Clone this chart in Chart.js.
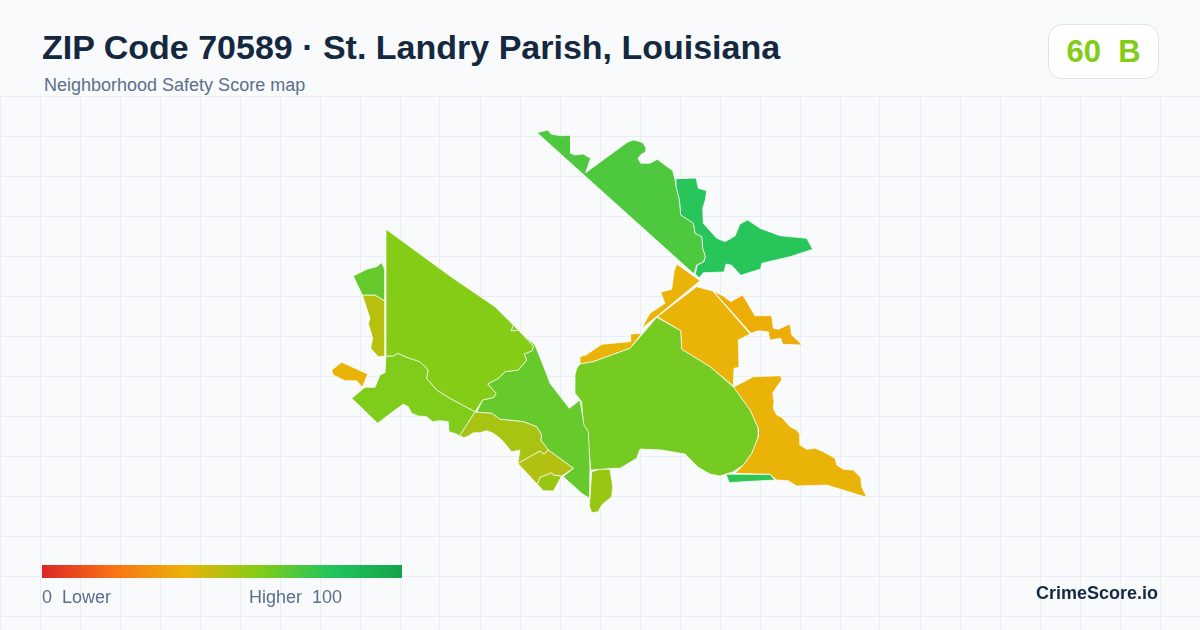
<!DOCTYPE html>
<html><head><meta charset="utf-8">
<style>
html,body{margin:0;padding:0;background:#f8fafc;width:1200px;height:630px;overflow:hidden;font-family:"Liberation Sans",Arial,sans-serif}
#wrap{position:absolute;left:0;top:96px;width:1200px;height:534px}
canvas{display:block}
.t{position:absolute;white-space:pre;line-height:1}
#title{left:42px;top:30px;font-size:34px;font-weight:700;color:#14293f}
#sub{left:44px;top:76px;font-size:18px;color:#5b6f8a}
#badge{position:absolute;left:1048px;top:24px;width:109px;height:53px;background:#fff;border:1px solid #dde4ee;border-radius:14px;text-align:center;font-size:31px;line-height:53px;font-weight:700;color:#84cc16;white-space:pre}
#bar{position:absolute;left:42px;top:565px;width:360px;height:13px;background:linear-gradient(90deg,#dc2626 0%,#f97316 20%,#eab308 40%,#84cc16 60%,#22c55e 80%,#16a34a 100%)}
#lo{left:42px;top:588px;font-size:18px;color:#5b6f8a}
#hi{left:249px;top:588px;font-size:18px;color:#5b6f8a}
#brand{left:1036px;top:584px;font-size:18px;font-weight:700;color:#14293f}
</style></head><body>
<div id="wrap"><canvas id="c" width="1200" height="534"></canvas></div>
<div class="t" id="title">ZIP Code 70589 · St. Landry Parish, Louisiana</div>
<div class="t" id="sub">Neighborhood Safety Score map</div>
<div id="badge">60  B</div>
<div id="bar"></div>
<div class="t" id="lo">0  Lower</div>
<div class="t" id="hi">Higher  100</div>
<div class="t" id="brand">CrimeScore.io</div>
<script src="https://cdn.jsdelivr.net/npm/chart.js@4/dist/chart.umd.min.js"></script>
<script>
const gridX = [0,40,80,120,160,200,240,280,320,360,400,440,480,520,560,600,640,680,720,760,800,840,880,920,960,1000,1040,1080,1120,1160];
const gridY = [96,136,176,216,256,296,336,376,416,456,496,536,576,616];

const tractA = [[537,132.7],[548,130],[551,134],[560,135.7],[570.7,135.3],[570.7,153.3],[575,155],[583.3,154],[590.7,158.3],[589,163],[585.7,172.7],[626.7,142.7],[633,140],[638,141],[643,143],[646,148],[645.5,152],[641,154.5],[638,158.3],[640.7,163.3],[650,163.3],[657.3,159.3],[672.7,170.7],[675,179.3],[676,186.7],[679.3,200],[680.7,215],[693.3,223.3],[695,233.3],[701.7,236.7],[702.7,248.3],[705.3,256.7],[703.3,261.7],[696.7,265],[694,274]];
const tractB = [[676,178.7],[696,178],[698.3,188.3],[706.7,190.7],[705.3,200],[702.7,208.3],[703.3,223.3],[716.7,238.3],[725,241.7],[735,236],[740,224],[747.7,220],[760,228.3],[780,235.7],[806.7,238.3],[812.7,249.3],[790,256.7],[761.7,263.3],[760.7,269],[740.7,275.3],[731.7,265.3],[726,264],[724,272],[703.3,272.7],[699.3,277.7],[695.3,274],[697.3,265],[704,261.7],[705.3,256.7],[702.7,248.3],[701.7,236.7],[695,233.3],[693.3,223.3],[680.7,215],[679.3,200],[676,186.7]];
const tractC = [[386,229.3],[451.7,277.3],[495,306.7],[513.3,325],[511,331],[518.3,330],[533.3,346],[532.3,350.7],[524.3,354],[526.7,360],[518.3,370],[505,371.7],[498.3,378.3],[487.7,384],[496,393.3],[494,397.3],[482.7,400],[475,411.7],[450,398.3],[436.7,390],[426.7,378.3],[428.3,370],[420,361.7],[405,356.7],[398.3,353.3],[393.3,356],[386,356]];
const tractC2 = [[513.3,325],[511,331],[518.3,330]];
const tractD = [[353.3,276],[366.7,269.3],[376.7,266.7],[381.7,262.7],[385,270],[385,301],[375,295],[362.3,295]];
const tractE = [[362.3,295],[375,295],[385,301],[385,356],[378.3,356.7],[370.7,348.3],[372.7,338.3],[368.3,323.3],[370,318.3]];
const tractF = [[331.7,370],[341.7,362.3],[367.7,374],[362.3,387.3],[356.7,380.7],[345,380.7],[333.3,375]];
const tractG = [[386,356],[393.3,356],[398.3,353.3],[405,356.7],[420,361.7],[428.3,370],[426.7,378.3],[436.7,390],[450,398.3],[475,411.7],[459.7,435.7],[455,433.5],[449,431.7],[448.3,421.7],[440,420.7],[432.7,421.7],[426.7,416.7],[418.3,416],[411.7,413.3],[408.3,406.7],[403.3,404],[390,413.7],[377.7,423.3],[351.7,398.3],[365,387.3],[375,387.3],[380,375],[385,372.7]];
const tractH = [[476.7,412.3],[491.7,413.3],[500,419.3],[523.3,421.7],[536.7,426.7],[541.7,435],[540.7,440],[548.3,450],[544,454.3],[540,451],[517.7,463.3],[520,450],[511.7,451.7],[503.3,441.7],[500,438.3],[493.3,433.3],[486.7,430.7],[480,432.7],[473.3,432.7],[468.3,436],[464,437.7],[459.7,435.7],[475,411.7]];
const tractI = [[517.7,463.3],[540,451],[544,454.3],[548.3,450],[573.3,468.3],[561.7,476],[553.3,475],[551.7,472.7],[540,477.3],[537.3,484.3]];
const tractJ = [[537.3,484.3],[540,477.3],[551.7,472.7],[553.3,475],[561.7,476],[553.3,491],[543.3,490.7]];
const tractK = [[476.7,412.3],[482.7,400],[494,397.3],[496,393.3],[487.7,384],[498.3,378.3],[505,371.7],[518.3,370],[526.7,360],[524.3,354],[532.3,350.7],[533.3,346],[520,331.7],[535,345],[545,370],[550,383.3],[569.3,408.3],[580,400],[584,425],[588.3,431.7],[590,466.7],[589.3,498.3],[581.7,493.3],[563.3,476.7],[573.3,468.3],[548.3,450],[540.7,440],[541.7,435],[536.7,426.7],[523.3,421.7],[500,419.3],[491.7,413.3]];
const tractL = [[591.7,471.7],[600,469.3],[610,469.3],[612.7,486.7],[611.7,496.7],[601.7,505],[598.3,511.7],[591.7,512.7],[589.3,506],[590,498.3]];
const tractL2 = [[601.7,511.2],[605,514],[602.5,512]];
const tractM = [[580,364],[593.3,361.7],[630,348.3],[641.7,335],[656.7,317.3],[680.7,330.7],[681.7,349.3],[710,366.7],[733.3,386.7],[750,410],[758.3,428.3],[758.3,436.7],[751.7,453.3],[743.3,465],[733.3,471.7],[720,476],[710,474],[698.3,467.3],[685,454],[661.7,450],[640,449],[636.7,458.3],[620,468.3],[611.7,468.3],[603.3,469.3],[590.7,470],[587.3,430],[583.3,425],[581.7,401.7],[575,393.3],[575,375],[576.7,368.3]];
const tractN = [[580,356.7],[586,355],[601.7,344.3],[630,341.7],[630.7,334],[641.7,333.3],[630,348.3],[593.3,361.7],[580,364]];
const tractO = [[676.7,264],[700,280.7],[657.3,316],[641.7,328.3],[650,313.3],[665,303.3],[660.7,292.3],[671.7,289.3],[674,271.7]];
const tractP = [[696.7,286.7],[712.7,291],[750,334],[738.3,340],[739,367.3],[734,368.3],[733.3,386],[710,366.7],[681.7,349.3],[680.7,330.7],[657.3,316.7]];
const tractQ = [[713.3,291],[723.3,296],[730.7,301.7],[742.7,295],[755,315.7],[771.7,315.7],[773.3,328.3],[778.3,329.3],[790,324],[791.7,335],[802.3,345],[782.7,344.3],[780.7,338.3],[770,340],[768.3,331.7],[758.3,330.7],[751,333.3]];
const tractR = [[733.3,387.3],[753.3,376.7],[780.7,375.7],[781.7,380],[776.7,386.7],[772.7,393.3],[774,401.7],[773.3,408.3],[776.7,415],[781.7,417.3],[790,426.7],[796.7,430],[800,435],[800,445],[806.7,449.3],[815,448.3],[823.3,451.7],[835,458.3],[836.7,465],[843.3,469.3],[853.3,470],[858.3,475],[860.7,477.3],[861.7,486.7],[866.7,497.3],[826.7,485],[796.7,486],[788.3,480.7],[776.7,480],[770,474.3],[735,473.3],[743.3,465],[751.7,453.3],[758.3,436.7],[758.3,428.3],[750,410]];
const tractS = [[726,474.3],[770,474.3],[775,480],[743.3,481.7],[729.3,482.7]];

const tracts = [tractA,tractB,tractC,tractC2,tractD,tractE,tractF,tractG,tractH,tractI,tractJ,tractK,tractL,tractL2,tractM,tractN,tractO,tractP,tractQ,tractR,tractS];
const scores = [71,79,60,62,66,50,40,61,53,51,56,66,56,56,63,40,40,40,38,40,77];

const rampStops = [[220,38,38],[249,115,22],[234,179,8],[132,204,22],[34,197,94],[22,163,74]];
function ramp(score){
  const p = score/20, i = Math.min(4,Math.floor(p)), f = p-i;
  const c = rampStops[i].map((v,k)=>Math.round(v+(rampStops[i+1][k]-v)*f));
  return `rgb(${c[0]},${c[1]},${c[2]})`;
}
new Chart(document.getElementById('c'),{
  type:'scatter',
  data:{datasets:tracts.map((t,i)=>({
    data:t.concat([t[0]]).map(p=>({x:p[0],y:p[1]})),
    showLine:true,fill:'shape',tension:0,pointRadius:0,pointHoverRadius:0,
    backgroundColor:ramp(scores[i]),borderColor:'#ffffff',borderWidth:0.7,borderJoinStyle:'round'
  }))},
  options:{
    responsive:false,animation:false,events:[],
    layout:{padding:0},
    plugins:{legend:{display:false},tooltip:{enabled:false},title:{display:false}},
    scales:{
      x:{type:'linear',min:0,max:1200,border:{display:false},
         afterBuildTicks:a=>{a.ticks=gridX.map(v=>({value:v}))},
         grid:{color:'#e8eef3',lineWidth:1,drawTicks:false},ticks:{display:false,padding:0}},
      y:{type:'linear',min:96,max:630,reverse:true,border:{display:false},
         afterBuildTicks:a=>{a.ticks=gridY.map(v=>({value:v}))},
         grid:{color:'#e8eef3',lineWidth:1,drawTicks:false},ticks:{display:false,padding:0}}
    }
  }
});
</script>
</body></html>
